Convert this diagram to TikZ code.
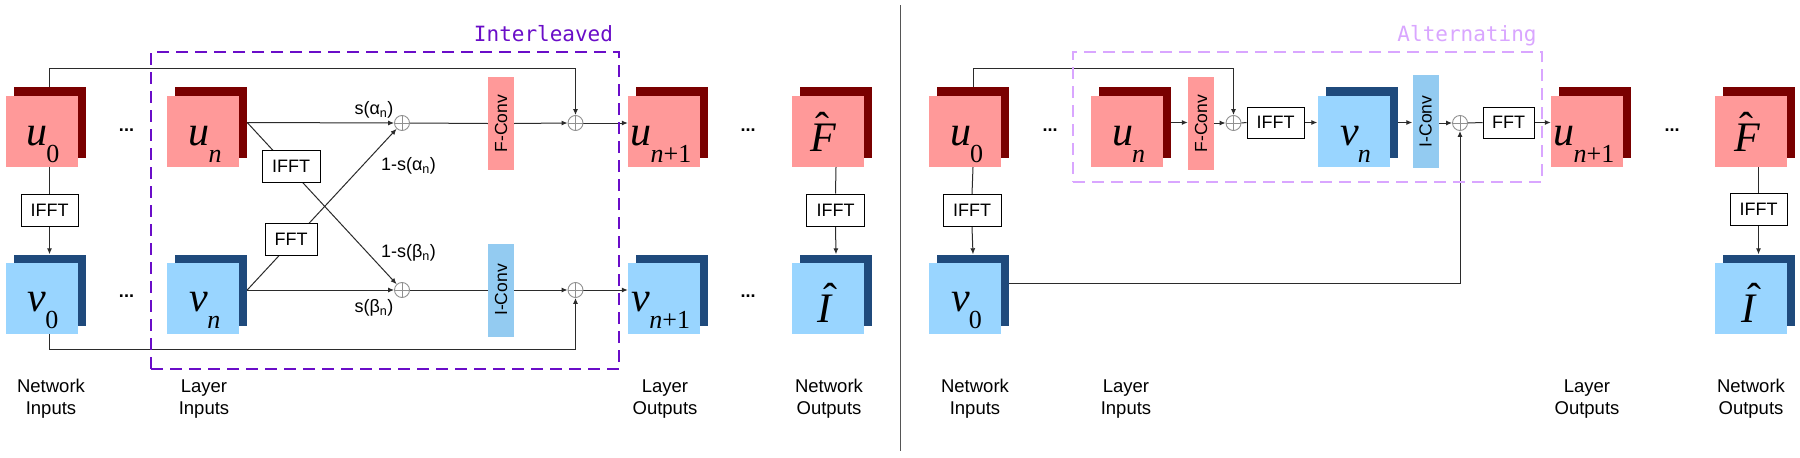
\documentclass[tikz,border=0pt]{standalone}
\usepackage{fontspec}
\setmainfont{Liberation Sans}
\newfontfamily\tms{Liberation Serif}
\newfontfamily\monof{DejaVu Sans Mono}
\usetikzlibrary{arrows.meta,calc}
\pgfdeclarelayer{bg}
\pgfsetlayers{bg,main}
\definecolor{pinkF}{HTML}{FF9999}
\definecolor{redB}{HTML}{7A0000}
\definecolor{blueF}{HTML}{99D5FF}
\definecolor{blueB}{HTML}{1F4A7C}
\definecolor{iconv}{HTML}{93CBF1}
\definecolor{purpleD}{HTML}{6A0DC8}
\definecolor{purpleL}{HTML}{D9A6FF}
\definecolor{linec}{HTML}{2B2B2B}
\definecolor{sumc}{HTML}{909090}
\definecolor{divc}{HTML}{555555}
\newcommand\symb[2]{{\tms\fontsize{42}{42}\selectfont\itshape #1}\kern-1pt\raisebox{-17pt}{\tms\fontsize{26}{26}\selectfont #2}}
\newcommand\hatted[2]{{\tms\fontsize{42}{42}\selectfont\itshape\rlap{\kern#2\raisebox{9.5pt}{\upshape\char"02C6}}#1}}
\begin{document}
\begin{tikzpicture}[x=1pt,y=-1pt,
  sq/.style={rectangle,minimum width=72pt,minimum height=71pt,inner sep=0pt,draw=none},
  ufront/.style={sq,fill=pinkF},
  uback/.style={sq,fill=redB},
  vfront/.style={sq,fill=blueF},
  vback/.style={sq,fill=blueB},
  fftbox/.style={draw=black,fill=white,line width=1pt,inner sep=0pt,minimum height=32pt,font=\fontsize{18}{18}\selectfont},
  conv/.style={rectangle,inner sep=0pt,minimum width=26pt,minimum height=93pt,font=\fontsize{17.5}{17.5}\selectfont},
  sumnode/.style={circle,draw=sumc,line width=0.9pt,fill=white,minimum size=15pt,inner sep=0pt,
    path picture={\draw[sumc,line width=0.8pt] (path picture bounding box.north) -- (path picture bounding box.south) (path picture bounding box.west) -- (path picture bounding box.east);}},
  conn/.style={draw=linec,line width=1pt},
  arr/.style={conn,-{Latex[length=6pt,width=5pt]}},
  lbl/.style={font=\fontsize{18.5}{22}\selectfont,align=center,inner sep=0pt},
  glbl/.style={font=\fontsize{18}{18}\selectfont,inner sep=0pt},
  dotsn/.style={font=\fontsize{18}{18}\selectfont\bfseries,inner sep=0pt},
  sym/.style={anchor=base,inner sep=0pt},
  frame/.style={rectangle,line width=2.5pt,dash pattern=on 12pt off 7pt,inner sep=0pt,fill=none}
]
\useasboundingbox (0,0) rectangle (1800,458);
\begin{pgfonlayer}{bg}
\fill[white] (0,0) rectangle (1800,458);
\end{pgfonlayer}

% ===== divider
\coordinate (dtop) at (900.7,5);
\coordinate (dbot) at (900.7,451);
\draw[divc,line width=1.5pt] (dtop) -- (dbot);

% ===== LEFT PANEL
\node[frame,draw=purpleD,minimum width=468pt,minimum height=317pt] (frameL) at (385,210.5) {};
\node[anchor=base,inner sep=0pt,text=purpleD,font=\monof\fontsize{21}{21}\selectfont] (titleL) at (543.5,41) {Interleaved};

\node[uback] (u0b) at (49.5,122.5) {};
\node[ufront] (u0) at (41.5,131.5) {};
\node[sym] (u0t) at (43,145) {\symb{u}{0}};
\node[vback] (v0b) at (49.5,290) {};
\node[vfront] (v0) at (41.5,298.5) {};
\node[sym] (v0t) at (43,311) {\symb{v}{0}};
\node[fftbox,minimum width=57pt] (ifA) at (49.5,210) {IFFT};
\node[dotsn] (dA1) at (126.5,130) {...};
\node[dotsn] (dA2) at (126.5,296) {...};

\node[uback] (unb) at (211,122.5) {};
\node[ufront] (un) at (203,131.5) {};
\node[sym] (unt) at (205,145) {\symb{u}{\itshape n}};
\node[vback] (vnb) at (211,290) {};
\node[vfront] (vn) at (203,298.5) {};
\node[sym] (vnt) at (205,311) {\symb{v}{\itshape n}};

\node[fftbox,minimum width=58pt] (ifB) at (291,166) {IFFT};
\node[fftbox,minimum width=52pt] (ffB) at (291,239) {FFT};

\node[sumnode] (s1) at (402,123) {};
\node[sumnode] (s2) at (402,290) {};
\node[sumnode] (s3) at (575.5,123) {};
\node[sumnode] (s4) at (575.5,290) {};

\node[glbl] (la) at (374,110) {s(α\textsubscript{n})};
\node[glbl] (lb) at (408.5,166) {1-s(α\textsubscript{n})};
\node[glbl] (lc) at (408.5,253) {1-s(β\textsubscript{n})};
\node[glbl] (ld) at (374,308) {s(β\textsubscript{n})};

\node[conv,fill=pinkF] (fcA) at (501,123.5) {\rotatebox{90}{F-Conv}};
\node[conv,fill=iconv] (icA) at (501,290) {\rotatebox{90}{I-Conv}};

\node[uback] (un1b) at (672,122.5) {};
\node[ufront] (un1) at (664,131.5) {};
\node[sym] (un1t) at (661,145) {\symb{u}{{\itshape n}+1}};
\node[vback] (vn1b) at (672,290) {};
\node[vfront] (vn1) at (664,298.5) {};
\node[sym] (vn1t) at (661,311) {\symb{v}{{\itshape n}+1}};
\node[dotsn] (dA3) at (748,130) {...};
\node[dotsn] (dA4) at (748,296) {...};

\node[uback] (Fb) at (836,122.5) {};
\node[ufront] (F) at (828,131.5) {};
\node[sym] (Ft) at (823,151) {\hatted{F}{5.5pt}};
\node[vback] (Ib) at (836,290) {};
\node[vfront] (I) at (828,298.5) {};
\node[sym] (It) at (824,322) {\hatted{I}{6pt}};
\node[fftbox,minimum width=58pt] (ifC) at (835.5,210) {IFFT};

\node[lbl] (nlA) at (51,399) {Network\\Inputs};
\node[lbl] (llA) at (204,399) {Layer\\Inputs};
\node[lbl] (loA) at (665,399) {Layer\\Outputs};
\node[lbl] (noA) at (829,399) {Network\\Outputs};

% ===== RIGHT PANEL
\node[frame,draw=purpleL,minimum width=469pt,minimum height=130pt] (frameR) at (1307.5,117) {};
\node[anchor=base,inner sep=0pt,text=purpleL,font=\monof\fontsize{21}{21}\selectfont] (titleR) at (1467,41) {Alternating};

\node[uback] (ru0b) at (973,122.5) {};
\node[ufront] (ru0) at (965,131.5) {};
\node[sym] (ru0t) at (966.5,145) {\symb{u}{0}};
\node[vback] (rv0b) at (973,290) {};
\node[vfront] (rv0) at (965,298.5) {};
\node[sym] (rv0t) at (966.5,311) {\symb{v}{0}};
\node[fftbox,minimum width=58pt] (ifD) at (972,210.5) {IFFT};
\node[dotsn] (dB1) at (1050,130) {...};

\node[uback] (runb) at (1134.5,122.5) {};
\node[ufront] (run) at (1126.5,131.5) {};
\node[sym] (runt) at (1128.5,145) {\symb{u}{\itshape n}};
\node[conv,fill=pinkF] (fcB) at (1201,123.5) {\rotatebox{90}{F-Conv}};
\node[sumnode] (s5) at (1233.5,123) {};
\node[fftbox,minimum width=57pt,minimum height=31pt] (ifE) at (1275.5,122.5) {IFFT};
\node[vback] (rvnb) at (1361.5,122.5) {};
\node[vfront] (rvn) at (1353.5,131.5) {};
\node[sym] (rvnt) at (1355.5,145) {\symb{v}{\itshape n}};
\node[conv,fill=iconv] (icB) at (1425.5,121.5) {\rotatebox{90}{I-Conv}};
\node[sumnode] (s6) at (1460,123) {};
\node[fftbox,minimum width=51pt,minimum height=31pt] (ffE) at (1508.5,122.5) {FFT};

\node[uback] (run1b) at (1595,122.5) {};
\node[ufront] (run1) at (1587,131.5) {};
\node[sym] (run1t) at (1584,145) {\symb{u}{{\itshape n}+1}};
\node[dotsn] (dB2) at (1672,130) {...};

\node[uback] (rFb) at (1758.5,122.5) {};
\node[ufront] (rF) at (1750.5,131.5) {};
\node[sym] (rFt) at (1747,151) {\hatted{F}{5.5pt}};
\node[vback] (rIb) at (1758.5,290) {};
\node[vfront] (rI) at (1750.5,298.5) {};
\node[sym] (rIt) at (1748,322) {\hatted{I}{6pt}};
\node[fftbox,minimum width=57pt] (ifF) at (1758.5,209) {IFFT};

\node[lbl] (nlB) at (975,399) {Network\\Inputs};
\node[lbl] (llB) at (1126,399) {Layer\\Inputs};
\node[lbl] (loB) at (1587,399) {Layer\\Outputs};
\node[lbl] (noB) at (1751,399) {Network\\Outputs};

% ===== connectors
\begin{pgfonlayer}{bg}
% left
\draw[arr] (u0b.north) -- ++(0,-18) -| (s3.north);
\draw[conn] (u0b.south |- u0.south) -- (ifA.north);
\draw[arr] (ifA.south) -- (v0b.north);
\draw[arr] (v0b.south |- v0.south) -- ++(0,15) -| (s4.south);
\draw[arr] (unb.east) -- (s1.west);
\draw[arr] (unb.east) -- (s2);
\draw[arr] (vnb.east) -- (s2.west);
\draw[arr] (vnb.east) -- (s1);
\draw[conn] (s1.east) -- (fcA.west);
\draw[conn] (s2.east) -- (icA.west);
\draw[arr] (fcA.east) -- (s3.west);
\draw[arr] (icA.east) -- (s4.west);
\draw[arr] (s3.east) -- (un1.west |- s3);
\draw[arr] (s4.east) -- (vn1.west |- s4);
\draw[conn] (Fb.south |- F.south) -- (ifC.north);
\draw[arr] (ifC.south) -- (Ib.north);
% right
\draw[arr] (ru0b.north) -- ++(0,-18) -| (s5.north);
\draw[conn] (ru0b.south |- ru0.south) -- (ifD.north);
\draw[arr] (ifD.south) -- (rv0b.north);
\draw[arr] ($(rv0b.east)+(0,-7)$) -| (s6.south);
\draw[arr] (runb.east) -- (fcB.west |- runb.east);
\draw[arr] (fcB.east |- s5) -- (s5.west);
\draw[conn] (s5.east) -- (ifE.west);
\draw[arr] (ifE.east) -- (rvn.west |- ifE);
\draw[arr] (rvnb.east) -- (icB.west |- rvnb.east);
\draw[arr] (icB.east |- s6) -- (s6.west);
\draw[conn] (s6.east) -- (ffE.west);
\draw[arr] (ffE.east) -- (run1.west |- ffE);
\draw[conn] (rFb.south |- rF.south) -- (ifF.north);
\draw[arr] (ifF.south) -- (rIb.north);
\end{pgfonlayer}
\end{tikzpicture}
\end{document}
